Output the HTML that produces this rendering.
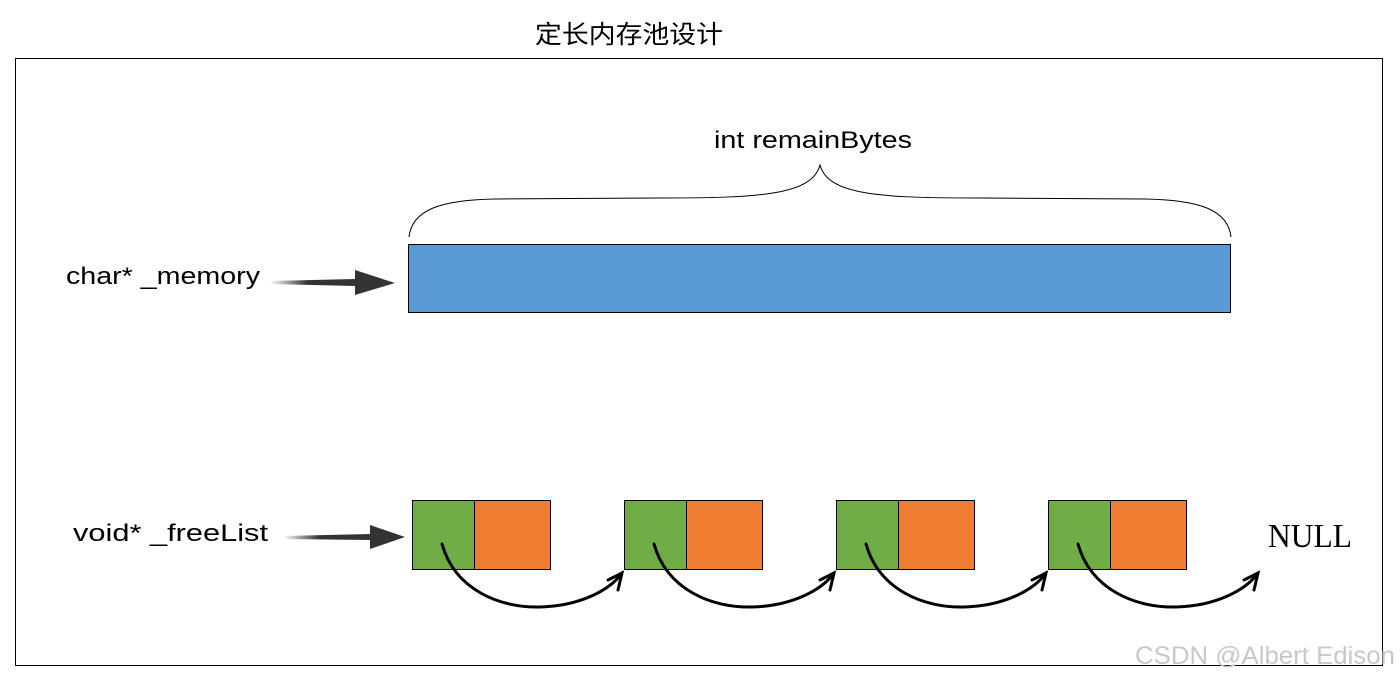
<!DOCTYPE html>
<html><head><meta charset="utf-8"><style>
body{margin:0;width:1400px;height:680px;background:#fff;overflow:hidden;font-family:"Liberation Sans","Noto Sans CJK SC",sans-serif}
</style></head><body>
<svg width="1400" height="680" xmlns="http://www.w3.org/2000/svg">
<defs>
<linearGradient id="g" x1="0" x2="1"><stop offset="0" stop-color="#333" stop-opacity="0"/><stop offset="0.3" stop-color="#333"/><stop offset="1" stop-color="#333"/></linearGradient>
</defs>
<text x="535" y="43" font-size="25" textLength="188" lengthAdjust="spacingAndGlyphs" font-family="Noto Sans CJK SC,sans-serif">定长内存池设计</text>
<rect x="15.5" y="58.5" width="1367" height="607" fill="none" stroke="#000"/>
<text x="714" y="148" font-size="24" textLength="198" lengthAdjust="spacingAndGlyphs">int remainBytes</text>
<path d="M409,237 C412,210 440,200 495,199 L660,198 C760,198 812,195 820,165 C828,195 880,198 980,198 L1145,199 C1200,200 1228,210 1231,237" fill="none" stroke="#000" stroke-width="1"/>
<rect x="408.5" y="244.5" width="822" height="68" fill="#5b9bd5" stroke="#000"/>
<text x="66" y="284" font-size="24" textLength="194" lengthAdjust="spacingAndGlyphs">char* _memory</text>
<path d="M270,281 L355,279 L355,270 L395,283 L355,295 L355,286 L270,284Z" fill="url(#g)"/>
<text x="73" y="541" font-size="24" textLength="195" lengthAdjust="spacingAndGlyphs">void* _freeList</text>
<path d="M283,536 L370,534 L370,525 L405,537 L370,549 L370,540 L283,539Z" fill="url(#g)"/>
<g stroke="#000" stroke-width="1">
<rect x="412.5" y="500.5" width="62" height="69" fill="#70ad47"/><rect x="474.5" y="500.5" width="76" height="69" fill="#ed7d31"/>
<rect x="624.5" y="500.5" width="62" height="69" fill="#70ad47"/><rect x="686.5" y="500.5" width="76" height="69" fill="#ed7d31"/>
<rect x="836.5" y="500.5" width="62" height="69" fill="#70ad47"/><rect x="898.5" y="500.5" width="76" height="69" fill="#ed7d31"/>
<rect x="1048.5" y="500.5" width="62" height="69" fill="#70ad47"/><rect x="1110.5" y="500.5" width="76" height="69" fill="#ed7d31"/>
</g>
<g fill="none" stroke="#000" stroke-width="3" stroke-linecap="round">
<path d="M442,544 C455,590 500,608 540,607 C580,606 610,590 622,573 M608,580 L622,573 L618,590"/>
<path d="M654,544 C667,590 712,608 752,607 C792,606 822,590 834,573 M820,580 L834,573 L830,590"/>
<path d="M866,544 C879,590 924,608 964,607 C1004,606 1034,590 1046,573 M1032,580 L1046,573 L1042,590"/>
<path d="M1078,544 C1091,590 1136,608 1176,607 C1216,606 1246,590 1258,573 M1244,580 L1258,573 L1254,590"/>
</g>
<text x="1268" y="547" font-size="34" font-family="Liberation Serif,serif" textLength="84" lengthAdjust="spacingAndGlyphs">NULL</text>
<text x="1135" y="664" font-size="25" fill="#c8c8c8" textLength="260" lengthAdjust="spacingAndGlyphs">CSDN @Albert Edison</text>
</svg>
</body></html>
